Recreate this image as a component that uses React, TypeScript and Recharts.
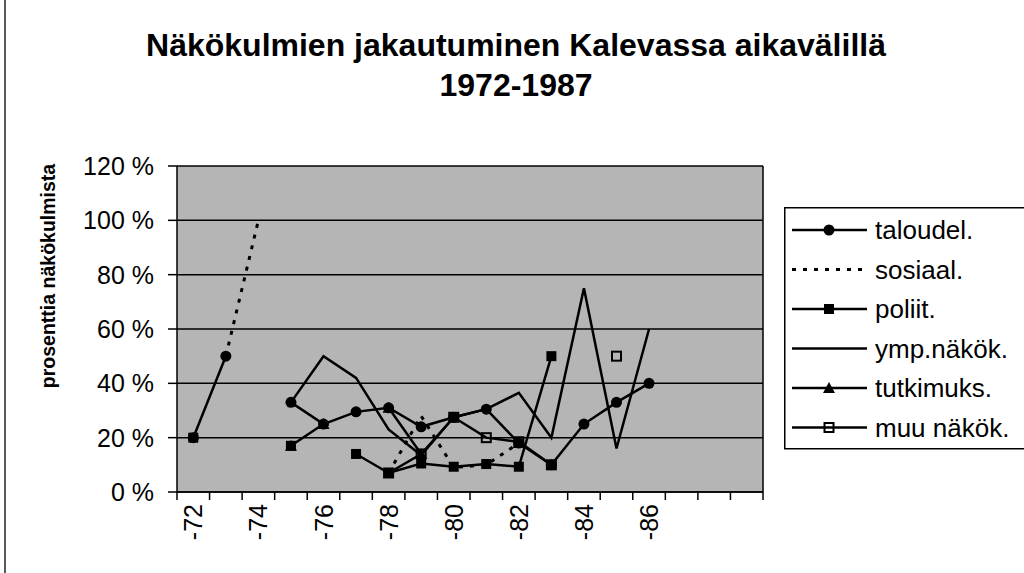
import React from 'react';
import { LineChart, Line, XAxis, YAxis, CartesianGrid, ReferenceLine, Legend } from 'recharts';

// categories -72 .. -89 (the last ones are empty in the source chart)
const years = ['-72', '-73', '-74', '-75', '-76', '-77', '-78', '-79', '-80', '-81', '-82', '-83', '-84', '-85', '-86', '-87', '-88', '-89'];
const tickLabels = ['-72', '-74', '-76', '-78', '-80', '-82', '-84', '-86'];
const yTicks = [0, 20, 40, 60, 80, 100, 120];

const taloudel = [20, 50, null, 33, 25, 29.5, 31, 24, 27.5, 30.5, 18, 10, 25, 33, 40, null, null, null];
const sosiaal = [null, 50, 100, null, null, null, 7, 28, 9, 10, 18, null, null, null, null, null, null, null];
const poliit = [20, null, null, 17, null, 14, 7, 10.5, 9.3, 10.3, 9.3, 50, null, null, null, null, null, null];
const ymp = [null, null, null, 33, 50, 42, 23, 13.5, 27.5, 30.5, 36.5, 20, 75, 16, 60, null, null, null];
const tutkimuks = [null, null, null, 17, 25, null, 31, 14, null, null, 18, null, null, null, null, null, null, null];
const muu = [null, null, null, null, null, null, 7, 14, 27.5, 20, 18.5, 10, null, 50, null, null, null, null];

const legendNames = ['taloudel.', 'sosiaal.', 'poliit.', 'ymp.näkök.', 'tutkimuks.', 'muu näkök.'];

const data = years.map((yr, i) => ({
  x: i + 0.5,
  year: yr,
  taloudel: taloudel[i],
  sosiaal: sosiaal[i],
  poliit: poliit[i],
  ymp: ymp[i],
  tutkimuks: tutkimuks[i],
  muu: muu[i],
}));

const FONT = '"Liberation Sans", Arial, sans-serif';

// tick marks at the category borders, labels in the middle
const xTicks = [
  ...years.map((_, i) => i),
  years.length,
  ...tickLabels.map(l => years.indexOf(l) + 0.5),
].sort((a, b) => a - b);

const Marker = ({ kind, cx, cy }: { kind: string; cx: number; cy: number }) => {
  if (kind === 'circle') return <circle cx={cx} cy={cy} r={5.5} fill="#000" />;
  if (kind === 'square') return <rect x={cx - 5} y={cy - 5} width={10} height={10} fill="#000" />;
  if (kind === 'open') return <rect x={cx - 4.5} y={cy - 4.5} width={9} height={9} fill="none" stroke="#000" strokeWidth={2} />;
  if (kind === 'triangle') return <polygon points={`${cx},${cy - 6} ${cx + 6},${cy + 5} ${cx - 6},${cy + 5}`} fill="#000" />;
  return null;
};

const makeDot = (kind: string) => (p: any) => {
  if (p.value == null || p.cy == null || isNaN(p.cy)) return <g key={`d-${kind}-${p.index}`} />;
  return (
    <g key={`d-${kind}-${p.index}`}>
      <Marker kind={kind} cx={p.cx} cy={p.cy} />
    </g>
  );
};

const XTick = (props: any) => {
  const { x, y, payload } = props;
  const v = payload.value;
  if (Number.isInteger(v)) {
    return <line x1={x} x2={x} y1={y} y2={y + 8} stroke="#000" strokeWidth={1.5} />;
  }
  const label = years[Math.floor(v)];
  return (
    <text
      transform={`translate(${x},${y + 12}) rotate(-90)`}
      textAnchor="end"
      dominantBaseline="central"
      fontSize={25}
      fontFamily={FONT}
      fill="#000"
    >
      {label}
    </text>
  );
};

const YTick = (props: any) => {
  const { x, y, payload } = props;
  return (
    <text x={x} y={y} textAnchor="end" dominantBaseline="central" fontSize={25} fontFamily={FONT} fill="#000">
      {`${payload.value} %`}
    </text>
  );
};

const legendKinds = ['circle', 'dash', 'square', 'none', 'triangle', 'open'];

const renderLegend = () => (
  <svg width={260} height={244}>
    <rect x={0.75} y={0.75} width={270} height={241} fill="#fff" stroke="#000" strokeWidth={1.5} />
    {legendNames.map((name, i) => {
      const cy = 23 + i * 39.5;
      return (
        <g key={name}>
          <line
            x1={8}
            x2={83}
            y1={cy}
            y2={cy}
            stroke="#000"
            strokeWidth={legendKinds[i] === 'dash' ? 3 : 2.5}
            strokeDasharray={legendKinds[i] === 'dash' ? '4 7' : undefined}
          />
          <Marker kind={legendKinds[i]} cx={45} cy={cy} />
          <text x={91} y={cy} dominantBaseline="central" fontSize={26} fontFamily={FONT} fill="#000">
            {name}
          </text>
        </g>
      );
    })}
  </svg>
);

export default function App() {
  return (
    <div style={{ position: 'absolute', left: 0, top: 0, width: 1024, height: 573, overflow: 'hidden', background: '#fff' }}>
      <LineChart
        width={1024}
        height={573}
        data={data}
        margin={{ top: 166, right: 261, bottom: 21, left: 0 }}
      >
        <CartesianGrid vertical={false} stroke="#000" strokeWidth={1.5} fill="#b5b5b5" fillOpacity={1} />
        <XAxis
          dataKey="x"
          type="number"
          domain={[0, years.length]}
          ticks={xTicks}
          interval={0}
          tick={<XTick />}
          tickLine={false}
          tickSize={0}
          tickMargin={0}
          axisLine={{ stroke: '#000', strokeWidth: 1.5 }}
          height={60}
          allowDecimals
        />
        <YAxis
          type="number"
          domain={[0, 120]}
          ticks={yTicks}
          interval={0}
          width={177}
          tick={<YTick />}
          tickSize={9}
          tickMargin={14}
          tickLine={{ stroke: '#000', strokeWidth: 1.5 }}
          axisLine={{ stroke: '#000', strokeWidth: 1.5 }}
        />
        <ReferenceLine x={years.length} stroke="#000" strokeWidth={1.5} />
        <Legend
          layout="vertical"
          verticalAlign="middle"
          align="center"
          content={renderLegend}
          wrapperStyle={{ position: 'absolute', left: 784, top: 207, width: 260, height: 244 }}
        />
        <Line dataKey="taloudel" stroke="#000" strokeWidth={2.5} dot={makeDot('circle')} isAnimationActive={false} />
        <Line dataKey="sosiaal" stroke="#000" strokeWidth={3} strokeDasharray="4 7" dot={false} isAnimationActive={false} />
        <Line dataKey="poliit" stroke="#000" strokeWidth={2.5} dot={makeDot('square')} isAnimationActive={false} />
        <Line dataKey="ymp" stroke="#000" strokeWidth={2.5} dot={false} isAnimationActive={false} />
        <Line dataKey="tutkimuks" stroke="#000" strokeWidth={2.5} dot={makeDot('triangle')} isAnimationActive={false} />
        <Line dataKey="muu" stroke="#000" strokeWidth={2.5} dot={makeDot('open')} isAnimationActive={false} />
      </LineChart>
      <svg width={1024} height={573} style={{ position: 'absolute', left: 0, top: 0, pointerEvents: 'none' }}>
        <line x1={5} x2={5} y1={0} y2={573} stroke="#222" strokeWidth={1.5} />
        <text x={516} y={56} textAnchor="middle" fontSize={32} fontWeight="bold" fontFamily={FONT}>
          Näkökulmien jakautuminen Kalevassa aikavälillä
        </text>
        <text x={516} y={96} textAnchor="middle" fontSize={32} fontWeight="bold" fontFamily={FONT}>
          1972-1987
        </text>
        <text
          transform="translate(48,276) rotate(-90)"
          textAnchor="middle"
          dominantBaseline="central"
          fontSize={19.5}
          fontWeight="bold"
          fontFamily={FONT}
        >
          prosenttia näkökulmista
        </text>
      </svg>
    </div>
  );
}
